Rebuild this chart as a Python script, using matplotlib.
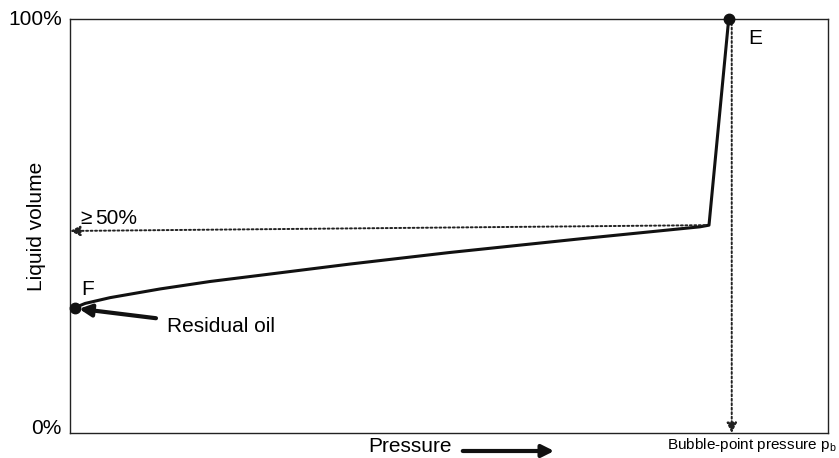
import matplotlib.pyplot as plt
from matplotlib.patches import FancyArrowPatch

plt.rcParams['font.family'] = ['Liberation Sans', 'DejaVu Sans']

# Liquid volume (%) vs normalised pressure
pressure = [0.007, 0.012, 0.020, 0.053, 0.119, 0.185, 0.251, 0.369, 0.501, 0.673, 0.831, 0.843, 0.869]
liquid = [30.2, 30.7, 31.3, 32.7, 34.8, 36.6, 38.1, 40.8, 43.6, 46.9, 49.8, 50.2, 100.0]

point_f = (0.007, 30.2)
point_e = (0.869, 100.0)
bubble_p = 0.873
guide_start = (0.838, 50.2)
guide_end = (0.0, 48.8)

FS = 15

fig = plt.figure(figsize=(8.39, 4.58), dpi=100)
ax = fig.add_axes([70 / 839, 25 / 458, 758 / 839, 414 / 458])
ax.set_xlim(0, 1)
ax.set_ylim(0, 100)
ax.set_xticks([])
ax.set_yticks([])
for s in ax.spines.values():
    s.set_linewidth(1.0)
    s.set_color('#222222')

ax.plot(pressure, liquid, color='#111111', lw=2.2, solid_joinstyle='round', zorder=3)
ax.plot(*point_f, 'o', color='#111111', ms=7.5, zorder=4, clip_on=False)
ax.plot(*point_e, 'o', color='#111111', ms=7.5, zorder=4, clip_on=False)

# dotted guides with arrow heads
dotted = dict(arrowstyle='-|>', linestyle=(0, (1, 1.3)), lw=1.4,
              color='#222222', mutation_scale=15, shrinkA=0, shrinkB=0)
ax.annotate('', xy=guide_end, xytext=guide_start, arrowprops=dotted)
ax.annotate('', xy=(bubble_p, 0.0), xytext=(bubble_p, 99), arrowprops=dotted)

# residual oil arrow
ax.annotate('Residual oil', xy=(0.012, 30.0), xytext=(0.128, 25.8),
            fontsize=FS, va='center', ha='left',
            arrowprops=dict(arrowstyle='-|>', lw=3.0, color='#111111',
                            mutation_scale=18, shrinkA=6, shrinkB=0))

ax.text(0.015, 32.3, 'F', fontsize=FS, ha='left', va='bottom')
ax.text(0.904, 95.3, 'E', fontsize=FS, ha='center', va='center')
ax.text(0.014, 49.6, '\u2265', fontsize=FS, ha='left', va='bottom')
ax.text(0.033, 49.6, '50%', fontsize=FS, ha='left', va='bottom')

ax.text(-0.011, 100, '100%', fontsize=FS, ha='right', va='center')
ax.text(-0.011, 1.2, '0%', fontsize=FS, ha='right', va='center')
ax.set_ylabel('Liquid volume', fontsize=FS, labelpad=17)

fig.text(410 / 839, 1 - 447 / 458, 'Pressure', fontsize=FS, ha='center', va='center')
fig.patches.append(FancyArrowPatch(
    (460 / 839, 1 - 451 / 458), (557 / 839, 1 - 451 / 458), transform=fig.transFigure,
    arrowstyle='-|>', lw=3.0, color='#111111', mutation_scale=18))
fig.text(837 / 839, 1 - 445 / 458, 'Bubble-point pressure p$_\\mathregular{b}$',
         fontsize=11, ha='right', va='center')

fig.savefig('out.png', dpi=100)
